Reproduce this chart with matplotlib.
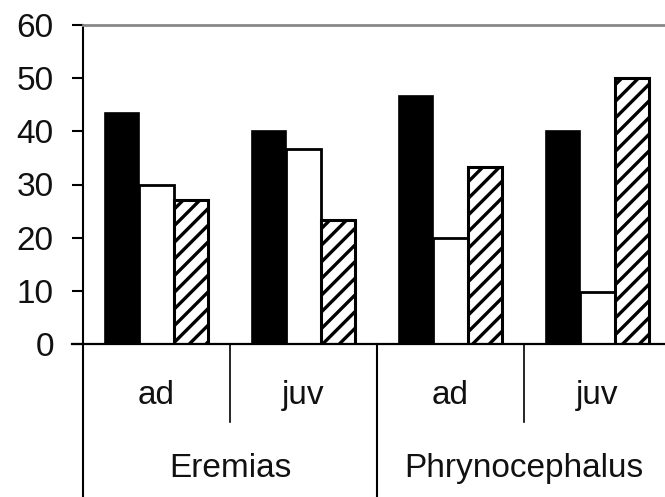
import matplotlib
matplotlib.use("Agg")
from matplotlib import pyplot as plt
import numpy as np

# values per category (ad / juv for each genus)
stages = ["ad", "juv", "ad", "juv"]
genera = ["Eremias", "Phrynocephalus"]
serie_negra = [43.5, 40, 46.7, 40]
serie_blanca = [30, 36.7, 20, 9.7]
serie_rayada = [27, 23.3, 33.3, 50]
y_ticks = [0, 10, 20, 30, 40, 50, 60]

plt.rcParams['font.family'] = ['Liberation Sans', 'DejaVu Sans']
plt.rcParams['hatch.linewidth'] = 2.4

fig = plt.figure(figsize=(6.65, 4.97), dpi=100)
ax = fig.add_axes([83/665, 153/497, 588/665, 319/497])

x = np.arange(len(stages))
ancho = 0.232
ax.bar(x - ancho, serie_negra, ancho, color="black", edgecolor="black", linewidth=1.2)
ax.bar(x, serie_blanca, ancho, color="white", edgecolor="black", linewidth=2)
ax.bar(x + ancho, serie_rayada, ancho, color="white", edgecolor="black", linewidth=2.2, hatch="//")

ax.set_xlim(-0.5, len(stages) - 0.5)
ax.set_ylim(0, 60)
ax.set_yticks(y_ticks)
ax.set_yticklabels([str(t) for t in y_ticks], fontsize=24, color="#111111")
ax.tick_params(axis="y", length=8, width=1.5, pad=13, direction="out")
ax.set_xticks([])

ax.spines["right"].set_visible(False)
ax.spines["top"].set_color("#888888")
ax.spines["top"].set_linewidth(2)
ax.spines["left"].set_linewidth(1.5)
ax.spines["bottom"].set_visible(False)
ax.plot([-0.575, len(stages) - 0.5], [0, 0], color="black", lw=1.6, clip_on=False, zorder=5)

# category labels and separators below the axis
trans = ax.get_xaxis_transform()
for i, s in enumerate(stages):
    ax.text(i, -0.16, s, transform=trans, ha="center", va="center", fontsize=24, color="#111111")
for i in [0.5, 2.5]:
    ax.plot([i, i], [0, -0.245], transform=trans, color="black", lw=1.2, clip_on=False)
for i in [-0.5, 1.5, 3.5]:
    ax.plot([i, i], [0, -0.5], transform=trans, color="black", lw=1.5, clip_on=False)
for j, g in enumerate(genera):
    ax.text(2 * j + 0.5, -0.39, g, transform=trans, ha="center", va="center", fontsize=24, color="#111111")

fig.savefig("out.png", dpi=100)
